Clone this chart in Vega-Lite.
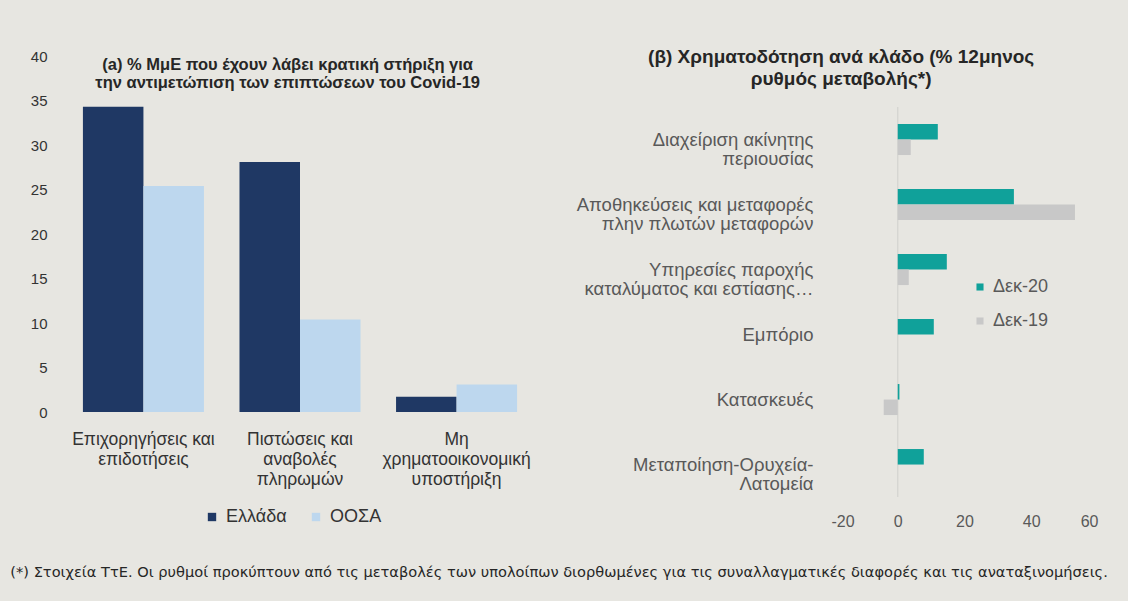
{
  "$schema": "https://vega.github.io/schema/vega-lite/v6.json",
  "background": "#e7e6e1",
  "padding": {"left": 10, "top": 48, "right": 40, "bottom": 40},
  "config": {
    "font": "Liberation Sans",
    "view": {"stroke": null},
    "axis": {"grid": false, "domain": false, "ticks": false, "title": null}
  },
  "title": {
    "text": "(*) Στοιχεία ΤτΕ. Οι ρυθμοί προκύπτουν από τις μεταβολές των υπολοίπων  διορθωμένες  για τις συναλλαγματικές διαφορές και τις αναταξινομήσεις.",
    "orient": "bottom",
    "anchor": "start",
    "font": "DejaVu Sans",
    "fontSize": 14.6,
    "fontWeight": "normal",
    "color": "#262626",
    "offset": 36,
    "dx": -20
  },
  "bounds": "flush",
  "spacing": 292,
  "resolve": {"scale": {"color": "independent"}, "legend": {"color": "independent"}},
  "datasets": {
    "a": [
      {"cat": "Επιχορηγήσεις και|επιδοτήσεις", "series": "Ελλάδα", "value": 34.3},
      {"cat": "Επιχορηγήσεις και|επιδοτήσεις", "series": "ΟΟΣΑ", "value": 25.4},
      {"cat": "Πιστώσεις και|αναβολές|πληρωμών", "series": "Ελλάδα", "value": 28.1},
      {"cat": "Πιστώσεις και|αναβολές|πληρωμών", "series": "ΟΟΣΑ", "value": 10.4},
      {"cat": "Μη|χρηματοοικονομική|υποστήριξη", "series": "Ελλάδα", "value": 1.7},
      {"cat": "Μη|χρηματοοικονομική|υποστήριξη", "series": "ΟΟΣΑ", "value": 3.1}
    ],
    "b": [
      {"sector": "Διαχείριση ακίνητης|περιουσίας", "period": "Δεκ-20", "value": 12.0},
      {"sector": "Διαχείριση ακίνητης|περιουσίας", "period": "Δεκ-19", "value": 3.9},
      {"sector": "Αποθηκεύσεις και μεταφορές|πλην πλωτών μεταφορών", "period": "Δεκ-20", "value": 34.8},
      {"sector": "Αποθηκεύσεις και μεταφορές|πλην πλωτών μεταφορών", "period": "Δεκ-19", "value": 53.1},
      {"sector": "Υπηρεσίες παροχής|καταλύματος και εστίασης…", "period": "Δεκ-20", "value": 14.7},
      {"sector": "Υπηρεσίες παροχής|καταλύματος και εστίασης…", "period": "Δεκ-19", "value": 3.3},
      {"sector": "Εμπόριο", "period": "Δεκ-20", "value": 10.8},
      {"sector": "Εμπόριο", "period": "Δεκ-19", "value": 0},
      {"sector": "Κατασκευές", "period": "Δεκ-20", "value": 0.5},
      {"sector": "Κατασκευές", "period": "Δεκ-19", "value": -4.2},
      {"sector": "Μεταποίηση-Ορυχεία-|Λατομεία", "period": "Δεκ-20", "value": 7.8},
      {"sector": "Μεταποίηση-Ορυχεία-|Λατομεία", "period": "Δεκ-19", "value": 0}
    ]
  },
  "hconcat": [
    {
      "width": 478,
      "height": 356,
      "title": {
        "text": ["(a) % ΜμΕ που έχουν λάβει κρατική στήριξη για", "την αντιμετώπιση των επιπτώσεων του Covid-19"],
        "fontSize": 16.5,
        "fontWeight": "bold",
        "color": "#262626",
        "anchor": "middle",
        "frame": "bounds",
        "lineHeight": 18,
        "offset": -42,
        "dx": 3
      },
      "data": {"name": "a"},
      "mark": {"type": "bar"},
      "encoding": {
        "x": {
          "field": "cat", "type": "nominal", "sort": null,
          "scale": {"paddingInner": 0.227, "paddingOuter": 0.14},
          "axis": {"labelAngle": 0, "labelExpr": "split(datum.label, '|')", "labelFontSize": 17.5, "labelColor": "#333333", "labelPadding": 27, "labelLineHeight": 20, "labelBaseline": "middle", "labelLimit": 0}
        },
        "xOffset": {"field": "series", "type": "nominal", "sort": ["Ελλάδα", "ΟΟΣΑ"], "scale": {"paddingInner": 0, "paddingOuter": 0}},
        "y": {
          "field": "value", "type": "quantitative",
          "scale": {"domain": [0, 40]},
          "axis": {"values": [0, 5, 10, 15, 20, 25, 30, 35, 40], "labelFontSize": 15, "labelColor": "#333333", "labelPadding": 14}
        },
        "color": {
          "field": "series", "type": "nominal",
          "scale": {"domain": ["Ελλάδα", "ΟΟΣΑ"], "range": ["#1f3864", "#bdd7ee"]},
          "legend": {"title": null, "orient": "none", "legendX": 142, "legendY": 452, "direction": "horizontal", "symbolType": "square", "symbolSize": 70, "labelFontSize": 18, "labelColor": "#333333", "columnPadding": 20, "labelOffset": 5}
        }
      }
    },
    {
      "width": 267,
      "height": 440,
      "title": {
        "text": ["(β) Χρηματοδότηση ανά κλάδο (% 12μηνος", "ρυθμός μεταβολής*)"],
        "fontSize": 19,
        "fontWeight": "bold",
        "color": "#262626",
        "anchor": "middle",
        "frame": "bounds",
        "lineHeight": 22,
        "offset": -33,
        "dx": 4
      },
      "data": {"name": "b"},
      "layer": [
        {
          "mark": {"type": "tick", "orient": "vertical", "size": 65, "thickness": 1, "color": "#d2d2cd"},
          "encoding": {
            "x": {"datum": 0, "type": "quantitative"},
            "y": {"field": "sector", "type": "nominal", "sort": null}
          }
        },
        {
          "mark": {"type": "bar"},
          "encoding": {
            "y": {
              "field": "sector", "type": "nominal", "sort": null,
              "scale": {"paddingInner": 0.523, "paddingOuter": 0.646, "align": 0.81},
              "axis": {"labelExpr": "split(datum.label, '|')", "labelFontSize": 18.5, "labelColor": "#595959", "labelPadding": 18, "labelLineHeight": 19, "labelLimit": 0}
            },
            "yOffset": {"field": "period", "type": "nominal", "sort": ["Δεκ-20", "Δεκ-19"], "scale": {"paddingInner": 0, "paddingOuter": 0}},
            "x": {
              "field": "value", "type": "quantitative",
              "scale": {"domain": [-20, 60]},
              "axis": {"values": [-20, 0, 20, 40, 60], "labelExpr": "replace(datum.label, '−', '-')", "labelFontSize": 16, "labelColor": "#595959", "labelPadding": 17}
            },
            "color": {
              "field": "period", "type": "nominal",
              "scale": {"domain": ["Δεκ-20", "Δεκ-19"], "range": ["#10a19a", "#c8c8c8"]},
              "legend": {"title": null, "orient": "none", "legendX": 140, "legendY": 222, "direction": "vertical", "symbolType": "square", "symbolSize": 50, "labelFontSize": 18, "labelColor": "#595959", "rowPadding": 16, "labelOffset": 4}
            }
          }
        }
      ]
    }
  ]
}
